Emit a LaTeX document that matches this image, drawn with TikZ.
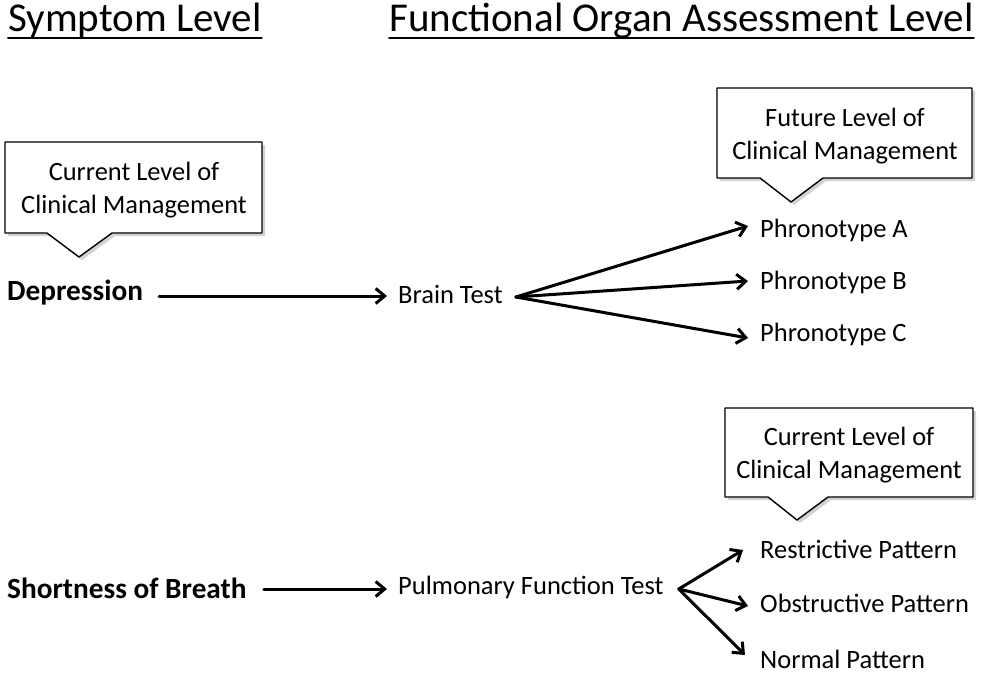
\documentclass[tikz,border=0pt]{standalone}
\usepackage{fontspec}
\setmainfont{Carlito}
\usetikzlibrary{arrows.meta}

\begin{document}
\begin{tikzpicture}[x=1pt, y=-1pt, line cap=round, line join=round,
  heading/.style={inner sep=0pt, anchor=base west, font=\fontsize{41}{49}\selectfont},
  symptom/.style={inner sep=0pt, anchor=west, font=\fontsize{29.3}{35}\selectfont\bfseries},
  label/.style={inner sep=0pt, anchor=west, font=\fontsize{26.5}{32}\selectfont},
  note/.style={inner sep=0pt, align=center, font=\fontsize{26.4}{33}\selectfont},
  bubble/.style={draw=black, fill=white, line width=1.4pt},
  bubbleshadow/.style={fill=black!35, opacity=0.5},
  link/.style={line width=3pt, -{Straight Barb[length=9pt, width=15pt, line width=3pt]}}]

\useasboundingbox (0,0) rectangle (981,674);

% headings
\node[heading] (symhead) at (8,32) {Symptom Level};
\node[heading] (orghead) at (389,32) {Functional Organ Assessment Level};
\draw[line width=2pt] ([yshift=-6pt]symhead.base west) -- ([yshift=-6pt]symhead.base east);
\draw[line width=2pt] ([yshift=-6pt]orghead.base west) -- ([yshift=-6pt]orghead.base east);

% callouts
\fill[bubbleshadow] (8,145) -- (265,145) -- (265,236) -- (115,236) -- (82,260) -- (50,236) -- (8,236) -- cycle;
\draw[bubble] (5,142) -- (262,142) -- (262,233) -- (112,233) -- (79,257) -- (47,233) -- (5,233) -- cycle;
\node[note] (curtop) at (134,190) {Current Level of\\Clinical Management};

\fill[bubbleshadow] (720,91) -- (975,91) -- (975,181) -- (826,181) -- (794,205) -- (763,181) -- (720,181) -- cycle;
\draw[bubble] (717,88) -- (972,88) -- (972,178) -- (823,178) -- (791,202) -- (760,178) -- (717,178) -- cycle;
\node[note] (future) at (845,136) {Future Level of\\Clinical Management};

\fill[bubbleshadow] (728,411) -- (976,411) -- (976,500) -- (831,500) -- (800,523) -- (771,500) -- (728,500) -- cycle;
\draw[bubble] (725,408) -- (973,408) -- (973,497) -- (828,497) -- (797,520) -- (768,497) -- (725,497) -- cycle;
\node[note] (curbot) at (849,455) {Current Level of\\Clinical Management};

% upper row
\node[symptom] (depr) at (7,293) {Depression};
\node[label] (brain) at (398,294) {Brain Test};
\node[label] (phA) at (760,230) {Phronotype A};
\node[label] (phB) at (760,282) {Phronotype B};
\node[label] (phC) at (760,334) {Phronotype C};
\coordinate (brainout) at ([xshift=13pt,yshift=-3pt]brain.east);

\draw[link] ([xshift=16pt,yshift=-3pt]depr.east) -- ([xshift=-11pt,yshift=-2pt]brain.west);
\foreach \p/\dy in {phA/4, phB/1, phC/-4}
  \draw[link] (brainout) -- ([xshift=-12pt,yshift=\dy pt]\p.west);

% lower row
\node[symptom] (sob) at (7,588) {Shortness of Breath};
\node[label] (pft) at (398,587) {Pulmonary Function Test};
\node[label] (restr) at (760,549) {Restrictive Pattern};
\node[label] (obstr) at (760,603) {Obstructive Pattern};
\node[label] (normal) at (760,659) {Normal Pattern};
\coordinate (pftout) at ([xshift=15pt,yshift=-2pt]pft.east);

\draw[link] ([xshift=17pt,yshift=-1pt]sob.east) -- ([xshift=-11pt,yshift=-2pt]pft.west);
\foreach \p/\dx/\dy in {restr/-17/-1, obstr/-12/-3, normal/-15/4}
  \draw[link] (pftout) -- ([xshift=\dx pt,yshift=\dy pt]\p.west);

\end{tikzpicture}
\end{document}
